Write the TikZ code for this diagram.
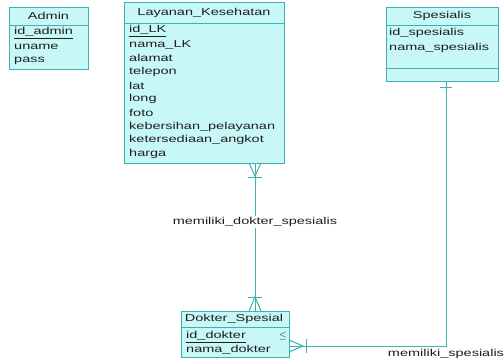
\documentclass[tikz,border=0pt]{standalone}
\usepackage{fontspec}
\setmainfont[FakeStretch=1.45]{Liberation Sans}
\definecolor{edge}{RGB}{64,176,176}
\definecolor{entfill}{RGB}{200,247,247}
\definecolor{txt}{RGB}{30,30,30}
\begin{document}
\begin{tikzpicture}[x=1pt,y=-1pt,
  ent/.style={draw=edge, fill=entfill, line width=0.9pt, anchor=north west, inner sep=0pt, outer sep=0pt},
  div/.style={draw=edge, line width=0.9pt},
  conn/.style={draw=edge, line width=1pt},
  attr/.style={anchor=west, inner sep=0pt, text=txt, font=\fontsize{10}{12}\selectfont},
  hdr/.style={anchor=center, inner sep=0pt, text=txt, font=\fontsize{10}{12}\selectfont},
  rel/.style={anchor=center, inner sep=1.5pt, fill=white, text=txt, font=\fontsize{10}{12}\selectfont}]
\fill[white] (0,0) rectangle (504,362);
\useasboundingbox (0,0) rectangle (504,362);

% Admin
\node[ent, minimum width=79pt, minimum height=62pt] (admin) at (9,7) {};
\draw[div] (9,25) -- (88,25);
\node[hdr] (adminh) at (48.5,16) {Admin};
\node[attr] (a1) at (14,33) {\underline{id\_admin}};
\node[attr] (a2) at (14,47) {uname};
\node[attr] (a3) at (14,61) {pass};

% Layanan_Kesehatan
\node[ent, minimum width=160pt, minimum height=161pt] (lk) at (124,2) {};
\draw[div] (124,23) -- (284,23);
\node[hdr] (lkh) at (204,12.5) {Layanan\_Kesehatan};
\node[attr] (l1) at (129,31) {\underline{id\_LK}};
\node[attr] (l2) at (129,44.7) {nama\_LK};
\node[attr] (l3) at (129,58.3) {alamat};
\node[attr] (l4) at (129,72) {telepon};
\node[attr] (l5) at (129,85.7) {lat};
\node[attr] (l6) at (129,99.3) {long};
\node[attr] (l7) at (129,113) {foto};
\node[attr] (l8) at (129,126.7) {kebersihan\_pelayanan};
\node[attr] (l9) at (129,140.3) {ketersediaan\_angkot};
\node[attr] (l10) at (129,154) {harga};

% Spesialis
\node[ent, minimum width=112pt, minimum height=74pt] (sp) at (386,7) {};
\draw[div] (386,25) -- (498,25);
\draw[div] (386,68) -- (498,68);
\node[hdr] (sph) at (442,16) {Spesialis};
\node[attr] (s1) at (389,33) {id\_spesialis};
\node[attr] (s2) at (389,48) {nama\_spesialis};

% Dokter_Spesial
\node[ent, minimum width=108pt, minimum height=46pt] (dk) at (181,311) {};
\draw[div] (181,327) -- (289,327);
\node[hdr] (dkh) at (234,319) {Dokter\_Spesial};
\node[attr] (d1) at (186,337) {\underline{id\_dokter}};
\node[attr] (d2) at (186,350) {nama\_dokter};
\node[hdr] (dfk) at (283,336) {$\le$};

% connector 1: LK -- Dokter
\coordinate (c1a) at (255,163);
\coordinate (c1b) at (255,311);
\draw[conn] (c1a) -- (c1b);
\draw[conn] (249,163) -- (255,176) -- (261,163);
\draw[conn] (248,177) -- (262,177);
\draw[conn] (248,297) -- (262,297);
\draw[conn] (249,311) -- (255,297) -- (261,311);
\node[rel] (r1) at (255,222) {memiliki\_dokter\_spesialis};

% connector 2: Spesialis -- Dokter
\coordinate (c2a) at (446,81);
\coordinate (c2m) at (446,346);
\coordinate (c2b) at (289,346);
\draw[conn] (c2a) -- (c2m) -- (c2b);
\draw[conn] (440,87) -- (452,87);
\draw[conn] (289,340) -- (303,346) -- (289,352);
\draw[conn] (306,339) -- (306,353);
\node[hdr] (r2) at (446,354) {memiliki\_spesialis};
\end{tikzpicture}
\end{document}
